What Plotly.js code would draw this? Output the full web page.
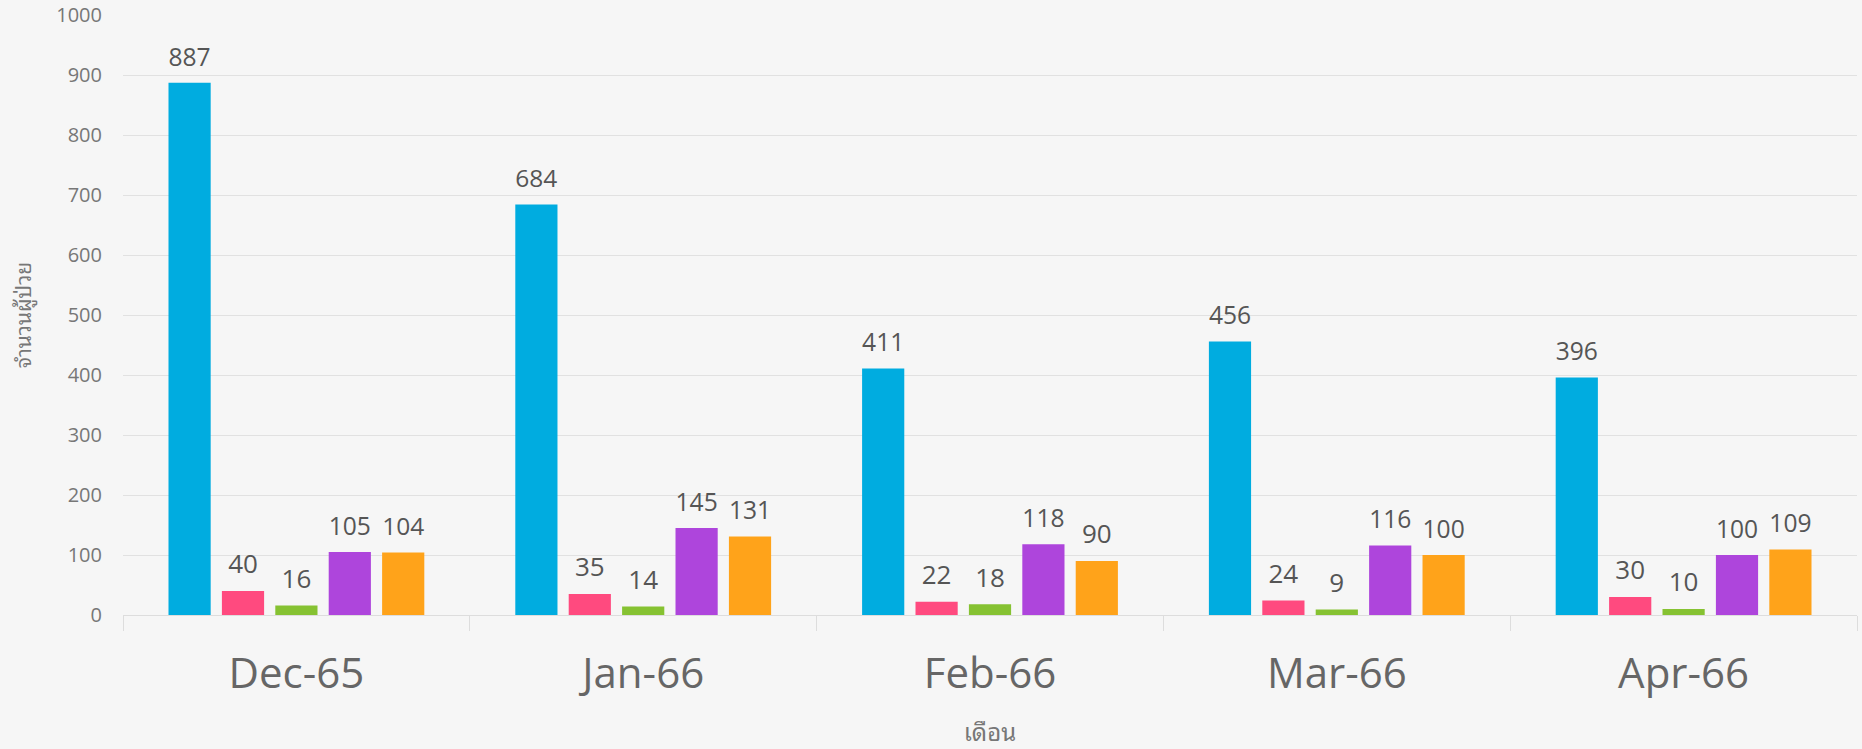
<!DOCTYPE html>
<html>
<head>
<meta charset="utf-8">
<script src="https://cdn.plot.ly/plotly-3.0.1.min.js"></script>
<style>
html,body{margin:0;padding:0;background:#f6f6f6;}
#chart{width:1862px;height:749px;}
</style>
</head>
<body>
<div id="chart"></div>
<script>
// ---- data ----
const months = ["Dec-65", "Jan-66", "Feb-66", "Mar-66", "Apr-66"];
const series1 = [887, 684, 411, 456, 396];
const series2 = [40, 35, 22, 24, 30];
const series3 = [16, 14, 18, 9, 10];
const series4 = [105, 145, 118, 116, 100];
const series5 = [104, 131, 90, 100, 109];
const seriesNames = ["กลุ่ม 1", "กลุ่ม 2", "กลุ่ม 3", "กลุ่ม 4", "กลุ่ม 5"];
const yTickValues = [0, 100, 200, 300, 400, 500, 600, 700, 800, 900, 1000];
const xTitle = "เดือน";
const yTitle = "จำนวนผู้ป่วย";

// ---- styles ----
const colors = ["#00ACE0", "#FF4A7F", "#86C232", "#AE45DC", "#FFA31A"];
const allSeries = [series1, series2, series3, series4, series5];
const labelLift = 11; // y-units the label axis is shifted so labels sit a bit above bars
const thaiFont = "'Noto Sans Thai Looped', Loma, Garuda, Norasi, 'Noto Serif Thai', 'Noto Sans', 'Open Sans'";

const traces = [];
allSeries.forEach((vals, i) => {
  traces.push({
    type: "bar", x: months, y: vals, name: seriesNames[i],
    marker: {color: colors[i]}, hoverinfo: "x+y+name", showlegend: false
  });
});
allSeries.forEach((vals, i) => {
  traces.push({
    type: "bar", x: months, y: vals, name: seriesNames[i], yaxis: "y2",
    marker: {color: "rgba(0,0,0,0)"}, hoverinfo: "skip", showlegend: false,
    text: vals.map(String), textposition: "outside", cliponaxis: false,
    textfont: {family: "Open Sans", size: 26, color: "#555555"}
  });
});

const layout = {
  width: 1862, height: 749,
  paper_bgcolor: "#f6f6f6", plot_bgcolor: "#f6f6f6",
  margin: {l: 123, r: 5, t: 15, b: 134},
  barmode: "group", bargap: 0.23, bargroupgap: 0.21,
  font: {family: "Open Sans", color: "#777777"},
  showlegend: false,
  xaxis: {
    type: "category",
    showgrid: false, showline: true, linecolor: "#dddddd", linewidth: 1,
    ticks: "outside", tickson: "boundaries", ticklen: 15, tickcolor: "#dddddd",
    tickfont: {family: "Open Sans", size: 42, color: "#666666"},
    ticklabelstandoff: 22,
    title: {text: xTitle, font: {family: thaiFont, size: 24, color: "#777777"}, standoff: 28},
    zeroline: false
  },
  yaxis: {
    range: [0, 1000], tickvals: yTickValues, showgrid: true, gridcolor: "#e1e1e1", gridwidth: 1,
    zeroline: false, showline: false, ticks: "",
    tickfont: {family: "Open Sans", size: 20, color: "#777777"},
    ticklabelstandoff: 20,
    title: {text: yTitle, font: {family: thaiFont, size: 21, color: "#777777"}, standoff: 18}
  },
  yaxis2: {
    overlaying: "y", range: [-labelLift, 1000 - labelLift],
    showgrid: false, zeroline: false, showticklabels: false, showline: false, ticks: ""
  }
};

Plotly.newPlot("chart", traces, layout, {displayModeBar: false, responsive: false});
</script>
</body>
</html>
